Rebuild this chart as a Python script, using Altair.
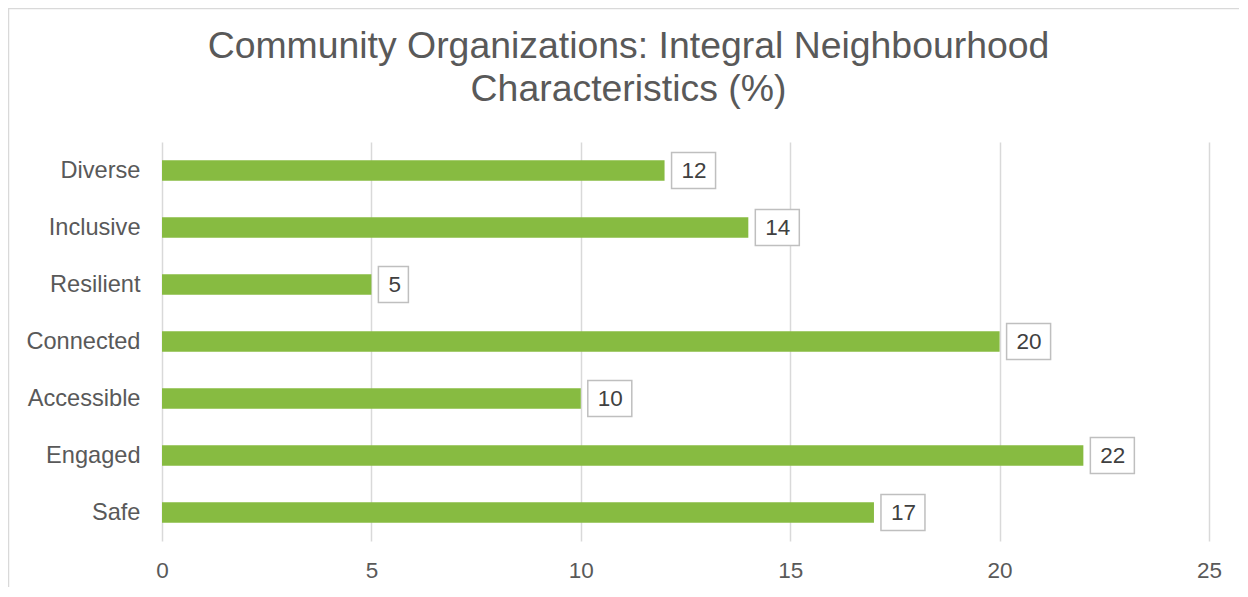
import altair as alt
import pandas as pd

categories = ["Diverse", "Inclusive", "Resilient", "Connected", "Accessible", "Engaged", "Safe"]
values = [12, 14, 5, 20, 10, 22, 17]
x_ticks = [0, 5, 10, 15, 20, 25]
title_lines = ["Community Organizations: Integral Neighbourhood", "Characteristics (%)"]

df = pd.DataFrame({"category": categories, "value": values})

FONT = "Liberation Sans"
GRAY = "#595959"
GREEN = "#87BB41"

W, H = 1047, 399

y_enc = alt.Y(
    "category:N",
    sort=categories,
    scale=alt.Scale(paddingInner=0.64, paddingOuter=0.32),
    axis=alt.Axis(
        title=None, domain=False, ticks=False, labelPadding=22,
        labelFontSize=23.6, labelColor=GRAY, labelFont=FONT, grid=False,
    ),
)
x_enc = alt.X(
    "value:Q",
    scale=alt.Scale(domain=[0, 25], nice=False),
    axis=alt.Axis(
        title=None, domain=False, ticks=False, values=x_ticks, labelPadding=18,
        labelFontSize=22.5, labelColor=GRAY, labelFont=FONT, labelFlush=False,
        grid=True, gridColor="#D9D9D9", gridWidth=1.5,
    ),
)

base = alt.Chart(df)

bars = base.mark_bar(color=GREEN).encode(x=x_enc, y=y_enc)

box2 = base.transform_filter("datum.value >= 10").mark_bar(
    height=36, fill="white", stroke="#BFBFBF", strokeWidth=1.5, xOffset=7, x2Offset=51
).encode(x="value:Q", x2="value:Q", y=alt.Y("category:N", sort=categories))

box1 = base.transform_filter("datum.value < 10").mark_bar(
    height=36, fill="white", stroke="#BFBFBF", strokeWidth=1.5, xOffset=7, x2Offset=37
).encode(x="value:Q", x2="value:Q", y=alt.Y("category:N", sort=categories))

labels = base.mark_text(
    align="left", baseline="middle", dx=17, fontSize=22.5, font=FONT, color="#404040"
).encode(x="value:Q", y=alt.Y("category:N", sort=categories), text="value:Q")

frame = alt.Chart(pd.DataFrame({"f": [0]})).mark_rect(
    fill="transparent", stroke="#D9D9D9", strokeWidth=1.5
).encode(
    x=alt.value(-153.5), x2=alt.value(W + 60), y=alt.value(-133.5), y2=alt.value(H + 60)
)

chart = alt.layer(bars, box2, box1, labels, frame).properties(
    width=W,
    height=H,
    background="white",
    title=alt.TitleParams(
        text=title_lines,
        anchor="middle",
        frame="group",
        dx=-57,
        offset=-100.75,
        fontSize=37.4,
        font=FONT,
        fontWeight="normal",
        color=GRAY,
        lineHeight=43,
    ),
    autosize=alt.AutoSizeParams(type="none"),
    padding={"left": 154, "top": 134, "right": 30, "bottom": 46},
).configure_view(
    stroke="transparent", strokeWidth=0
).configure_axis(domain=False).configure_axisY(grid=False)

chart.save("out.html", embed_options={"renderer": "svg", "actions": False})
